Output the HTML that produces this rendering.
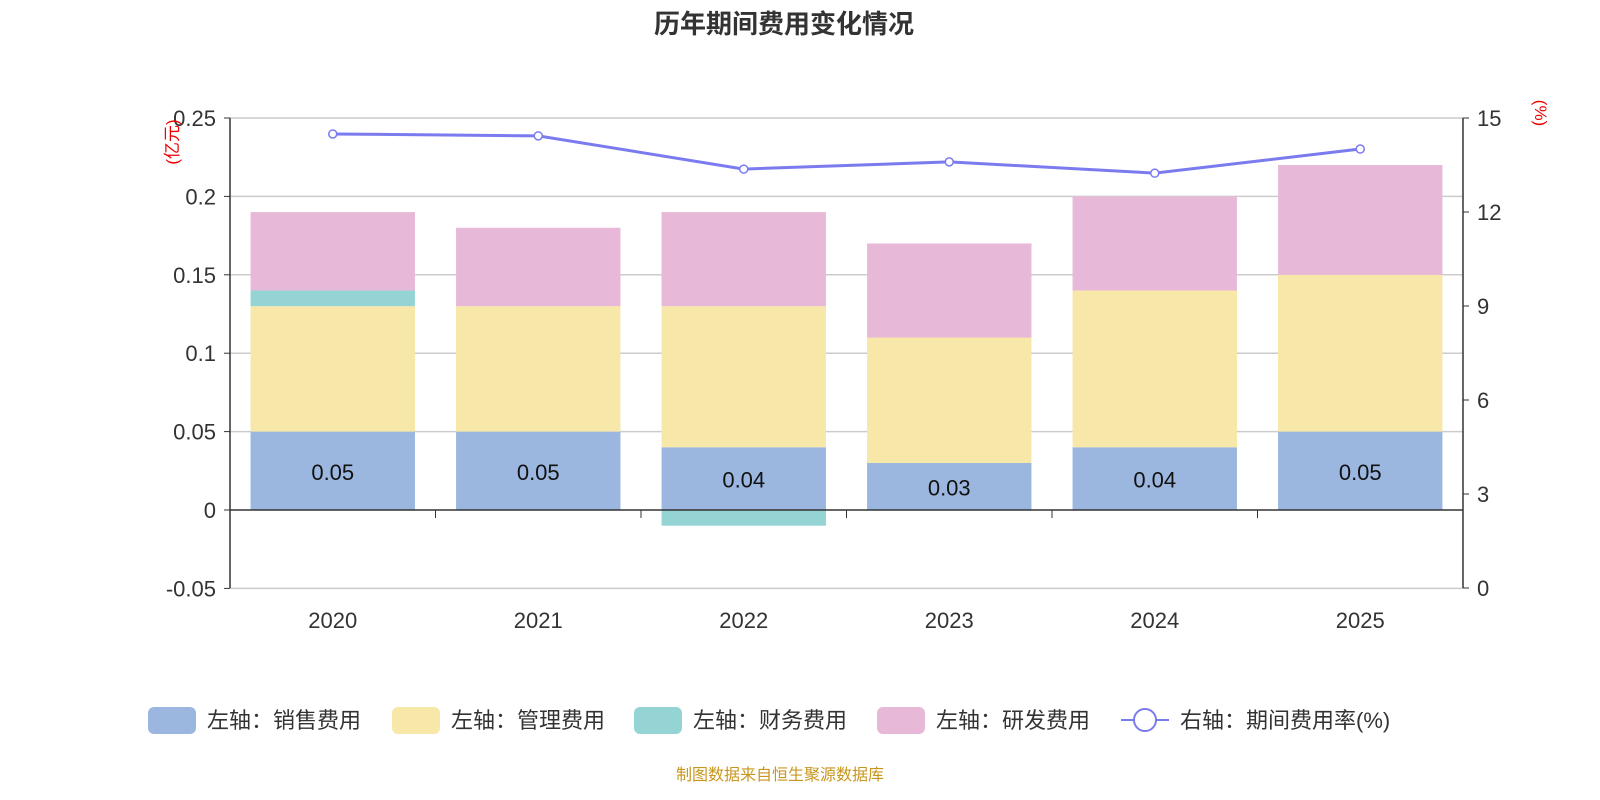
<!DOCTYPE html>
<html><head><meta charset="utf-8"><style>
body{margin:0;background:#fff;}
svg{display:block;font-family:"Liberation Sans","Noto Sans CJK SC",sans-serif;}
</style></head><body>
<svg id="c" width="1600" height="800" xmlns="http://www.w3.org/2000/svg">
<text x="784" y="33" text-anchor="middle" font-size="26" font-weight="bold" fill="#333">历年期间费用变化情况</text>
<text x="676" y="780" font-size="16" fill="#c8961e">制图数据来自恒生聚源数据库</text>
</svg>
<script>
const categories=["2020","2021","2022","2023","2024","2025"];
const sales=[0.05,0.05,0.04,0.03,0.04,0.05];
const mgmt=[0.08,0.08,0.09,0.08,0.10,0.10];
const finance=[0.01,0,-0.01,0,0,0];
const rnd=[0.05,0.05,0.06,0.06,0.06,0.07];
const rate=[14.49,14.43,13.37,13.6,13.24,14.01];
const leftTicks=[-0.05,0,0.05,0.1,0.15,0.2,0.25];
const leftTickLabels=["-0.05","0","0.05","0.1","0.15","0.2","0.25"];
const rightTicks=[0,3,6,9,12,15];

const svg=document.getElementById('c');
const NS="http://www.w3.org/2000/svg";
const L=230,R=1463,T=118,B=588;
const yL=v=>510-(v/0.05)*78.4;
const yR=v=>B-(v/15)*(B-T);
const band=(R-L)/categories.length;
const xC=i=>L+band*(i+0.5);
function mk(tag,attrs,parent){const e=document.createElementNS(NS,tag);for(const k in attrs)e.setAttribute(k,attrs[k]);(parent||svg).appendChild(e);return e;}

leftTicks.forEach((t,i)=>{
  if(t!==0&&t!==-0.05){const g=mk('line',{x1:L,x2:R,y1:yL(t),y2:yL(t),stroke:'#ccc','stroke-width':1.5});
  
  }
  const tx=mk('text',{x:L-14,y:yL(t)+8,'text-anchor':'end','font-size':22,fill:'#333'});
  tx.textContent=leftTickLabels[i];
  
  
  mk('line',{x1:L-6,x2:L,y1:yL(t),y2:yL(t),stroke:'#333'});
});
{const g=mk('line',{x1:L,x2:R,y1:yL(-0.05),y2:yL(-0.05),stroke:'#ccc','stroke-width':1.5});

}
rightTicks.forEach(t=>{
  const tx=mk('text',{x:R+14,y:yR(t)+8,'font-size':22,fill:'#333'});
  tx.textContent=String(t);
  
  
  mk('line',{x1:R,x2:R+6,y1:yR(t),y2:yR(t),stroke:'#333'});
});

const series=[[sales,'#9bb7e0','sales'],[mgmt,'#f7e7a8','mgmt'],[finance,'#94d4d4','finance'],[rnd,'#e7b8d8','rnd']];
const bw=band*0.8;
categories.forEach((c,i)=>{
  let pos=0,neg=0;
  series.forEach(([arr,col,nm])=>{
    const v=arr[i]; if(!v)return;
    let y0,y1;
    if(v>0){y0=pos;y1=pos+v;pos=y1;}else{y0=neg;y1=neg+v;neg=y1;}
    const r=mk('rect',{x:xC(i)-bw/2,width:bw,y:Math.min(yL(y0),yL(y1)),height:Math.abs(yL(y1)-yL(y0)),fill:col});
    
    
  });
  const lb=mk('text',{x:xC(i),y:(yL(0)+yL(sales[i]))/2+9,'text-anchor':'middle','font-size':22,fill:'#111'});
  lb.textContent=sales[i].toFixed(2);
  
  
  const xl=mk('text',{x:xC(i),y:628,'text-anchor':'middle','font-size':22,fill:'#333'});
  xl.textContent=c;
  
  
});
for(let i=1;i<categories.length;i++)mk('line',{x1:L+band*i,x2:L+band*i,y1:510,y2:518,stroke:'#333'});
mk('line',{x1:L,x2:L,y1:T,y2:B,stroke:'#333','stroke-width':1.5});
mk('line',{x1:R,x2:R,y1:T,y2:B,stroke:'#333','stroke-width':1.5});
{const a=mk('line',{x1:L,x2:R,y1:510,y2:510,stroke:'#333','stroke-width':1.5});

}

const pts=rate.map((v,i)=>xC(i)+','+yR(v)).join(' ');
{const pl=mk('polyline',{points:pts,fill:'none',stroke:'#7b7bf0','stroke-width':3});

}
rate.forEach((v,i)=>{const c=mk('circle',{cx:xC(i),cy:yR(v),r:4,fill:'#fff',stroke:'#7b7bf0','stroke-width':1.5});

});

{const t=mk('text',{transform:'translate(178,142) rotate(-90)','text-anchor':'middle','font-size':17,fill:'#e00'});t.textContent='(亿元)';

}
{const t=mk('text',{transform:'translate(1535,113) rotate(90)','text-anchor':'middle','font-size':17,fill:'#e00'});t.textContent='(%)';

}

const legend=[['左轴：销售费用','#9bb7e0',148],['左轴：管理费用','#f7e7a8',392],['左轴：财务费用','#94d4d4',634],['左轴：研发费用','#e7b8d8',877]];
legend.forEach(([t,col,x])=>{
  const g=mk('g',{});
  
  
  mk('rect',{x:x,y:707,width:48,height:27,rx:6,fill:col},g);
  const tx=mk('text',{x:x+59,y:728,'font-size':22,fill:'#333'},g);tx.textContent=t;
});
{const g=mk('g',{});


mk('line',{x1:1121,x2:1169,y1:720,y2:720,stroke:'#7b7bf0','stroke-width':2},g);
mk('circle',{cx:1145,cy:720,r:11,fill:'#fff',stroke:'#7b7bf0','stroke-width':2},g);
const tx=mk('text',{x:1180,y:728,'font-size':22,fill:'#333'},g);tx.textContent='右轴：期间费用率(%)';}
</script>
</body></html>
